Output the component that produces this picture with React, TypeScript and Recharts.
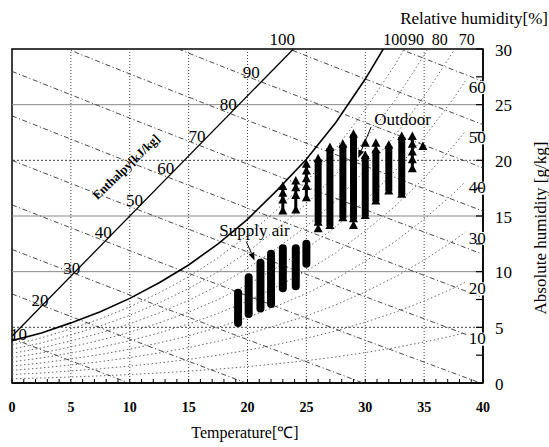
import React from "react";
import {
  ComposedChart,
  Scatter,
  XAxis,
  YAxis,
  ReferenceLine,
  ReferenceDot,
  ReferenceArea,
} from "recharts";

// saturation curve (100% RH) [g/kg]
const satTemp = [0, 2.5, 5, 7.5, 10, 12.5, 15, 17.5, 20, 22.5, 25, 27.5, 30, 32.5, 35, 37.5, 38.5];
const satHum = [3.8, 4.5, 5.4, 6.4, 7.6, 9.0, 10.6, 12.5, 14.7, 17.3, 20.1, 23.4, 27.3, 31.7, 36.8, 42.6, 45.2];

const rhLevels = [10, 20, 30, 40, 50, 60, 70, 80, 90];
const rhSideLabels = [10, 20, 30, 40, 50, 60];
const rhTopLabels = [100, 90, 80, 70];

const enthalpyLevels = [10, 20, 30, 40, 50, 60, 70, 80, 90, 100, 110];
const enthalpyLabels = [10, 20, 30, 40, 50, 60, 70, 80, 90, 100];
// diagonal enthalpy scale line
const enthalpyScaleTemp = [0, 23.9];
const enthalpyScaleHum = [4.2, 30];

const tempGrid = [5, 10, 15, 20, 25, 30, 35];
const humGrid = [5, 10, 15, 20, 25];
const tempTicks = Array.from({ length: 41 }, (_, i) => i);
const humTicks = Array.from({ length: 13 }, (_, i) => i * 2.5);

// supply air: range of absolute humidity per temperature
const supplyTemp = [19.2, 20.1, 21.1, 22.0, 23.0, 24.1, 25.0];
const supplyLow = [5.4, 6.2, 6.7, 7.1, 8.5, 8.7, 10.7];
const supplyHigh = [8.1, 9.5, 10.8, 11.6, 12.1, 12.1, 12.5];

// outdoor air: dense columns
const outdoorBarTemp = [26.0, 27.0, 28.1, 29.0, 30.0, 30.9, 32.0, 33.1];
const outdoorBarLow = [14.4, 14.1, 14.8, 14.7, 15.0, 16.3, 17.2, 16.9];
const outdoorBarHigh = [20.1, 21.1, 21.4, 22.3, 20.4, 20.9, 21.3, 22.1];
// outdoor air: single / stacked points
const outdoorPointTemp = [
  23.0, 23.0, 23.0, 23.0,
  24.1, 24.1, 24.1, 24.1,
  25.0, 25.0, 25.0, 25.0, 25.0,
  34.0, 34.0, 34.0, 34.0, 34.0,
  34.9, 26.0, 29.0, 30.0, 30.9,
];
const outdoorPointHum = [
  17.6, 17.0, 16.4, 15.4,
  18.1, 17.5, 16.8, 15.5,
  19.6, 19.0, 18.3, 17.6, 16.6,
  22.1, 21.4, 20.7, 20.0, 19.2,
  21.2, 13.8, 14.1, 21.5, 21.5,
];

const serif = '"Liberation Serif", "Times New Roman", serif';
const txt = { fontFamily: serif };

const enthHum = (h: number, t: number) => (h - 1.006 * t) / (2.501 + 0.00186 * t);
const scaleHum = (t: number) =>
  enthalpyScaleHum[0] +
  ((enthalpyScaleHum[1] - enthalpyScaleHum[0]) * (t - enthalpyScaleTemp[0])) /
    (enthalpyScaleTemp[1] - enthalpyScaleTemp[0]);

// where an enthalpy line meets the diagonal scale
const enthCross = (h: number) => {
  let lo = -5;
  let hi = 40;
  for (let k = 0; k < 40; k++) {
    const m = (lo + hi) / 2;
    if (scaleHum(m) - enthHum(h, m) > 0) hi = m;
    else lo = m;
  }
  return { t: lo, w: scaleHum(lo) };
};

// where an RH curve hits the top (30 g/kg)
const topCross = (rh: number) => {
  for (let i = 1; i < satTemp.length; i++) {
    const a = (satHum[i - 1] * rh) / 100;
    const b = (satHum[i] * rh) / 100;
    if (b >= 30) return satTemp[i - 1] + ((30 - a) / (b - a)) * (satTemp[i] - satTemp[i - 1]);
  }
  return 40;
};

const EmptyShape = () => <g />;

const Triangle = (props: any) => {
  const { cx, cy } = props;
  return (
    <polygon
      points={`${cx},${cy - 5.5} ${cx - 4.5},${cy + 3} ${cx + 4.5},${cy + 3}`}
      fill="#000"
    />
  );
};

const TempTick = ({ x, y, payload }: any) => {
  const v = payload.value;
  return (
    <g>
      <line x1={x} y1={y} x2={x} y2={y - 4} stroke="#000" />
      {v % 5 === 0 && (
        <text x={x} y={y + 29} textAnchor="middle" fontSize={14} fontWeight="bold" style={txt} fill="#000">
          {v}
        </text>
      )}
    </g>
  );
};

const HumTick = ({ x, y, payload }: any) => {
  const v = payload.value;
  return (
    <g>
      <line x1={x - 7} y1={y} x2={x} y2={y} stroke="#000" strokeWidth={1.2} />
      {v % 5 === 0 && (
        <text x={x + 12} y={y + 1} dominantBaseline="central" fontSize={17} style={txt} fill="#000">
          {v}
        </text>
      )}
    </g>
  );
};

const ArrowShape = (props: any) => {
  const { x1, y1, x2, y2 } = props;
  const a = Math.atan2(y2 - y1, x2 - x1);
  const L = 8;
  const s = 3;
  const bx = x2 - L * Math.cos(a);
  const by = y2 - L * Math.sin(a);
  const px = -Math.sin(a) * s;
  const py = Math.cos(a) * s;
  return (
    <g>
      <line x1={x1} y1={y1} x2={bx} y2={by} stroke="#000" strokeWidth={1} />
      <polygon points={`${x2},${y2} ${bx + px},${by + py} ${bx - px},${by - py}`} fill="#000" />
    </g>
  );
};

const lineProps = (stroke: string, width: number, dash?: string) => ({
  stroke,
  strokeWidth: width,
  strokeDasharray: dash,
});

export default function App() {
  const saturation = satTemp.map((t, i) => ({ t, w: satHum[i] }));
  const scaleLine = enthalpyScaleTemp.map((t, i) => ({ t, w: enthalpyScaleHum[i] }));
  const enthSample = [0, 10, 20, 30, 40];
  const outdoorPoints = outdoorPointTemp.map((t, i) => ({ t, w: outdoorPointHum[i] }));

  // thin spines under stacked triangles
  const stackTemps = Array.from(new Set(outdoorPointTemp)).filter(
    (t) => outdoorPointTemp.filter((v) => v === t).length > 1
  );
  const spines = stackTemps.map((t) => {
    const ws = outdoorPoints.filter((p) => p.t === t).map((p) => p.w);
    return [
      { t, w: Math.min(...ws) },
      { t, w: Math.max(...ws) },
    ];
  });

  return (
    <div style={{ position: "absolute", left: 0, top: 0, width: 549, height: 447, background: "#fff" }}>
      <ComposedChart
        width={549}
        height={447}
        margin={{ top: 49, right: 26, bottom: 34, left: 12 }}
        style={{ fontFamily: serif }}
      >
        <XAxis
          type="number"
          dataKey="t"
          domain={[0, 40]}
          ticks={tempTicks}
          interval={0}
          allowDataOverflow
          height={30}
          axisLine={{ stroke: "#000", strokeWidth: 1.5 }}
          tickLine={false}
          tickSize={0}
          tickMargin={0}
          tick={(p: any) => <TempTick {...p} />}
        />
        <YAxis
          type="number"
          dataKey="w"
          orientation="right"
          domain={[0, 30]}
          ticks={humTicks}
          interval={0}
          allowDataOverflow
          width={40}
          axisLine={{ stroke: "#000", strokeWidth: 1.5 }}
          tickLine={false}
          tickSize={0}
          tickMargin={0}
          tick={(p: any) => <HumTick {...p} />}
        />

        {tempGrid.map((t) => (
          <ReferenceLine key={`vx${t}`} x={t} stroke="#444" strokeDasharray="1 2" />
        ))}
        {humGrid.map((w) => (
          <ReferenceLine
            key={`hy${w}`}
            y={w}
            stroke={w === 10 || w === 15 || w === 25 ? "#888" : "#444"}
            strokeWidth={1}
            strokeDasharray={w === 10 || w === 15 || w === 25 ? undefined : "2 2"}
          />
        ))}

        {rhLevels.map((rh) => (
          <Scatter
            key={`rh${rh}`}
            data={satTemp.map((t, i) => ({ t, w: (satHum[i] * rh) / 100 }))}
            line={lineProps("#666", 1, "1.5 2.5")}
            shape={EmptyShape}
            isAnimationActive={false}
          />
        ))}

        {enthalpyLevels.map((h) => (
          <Scatter
            key={`h${h}`}
            data={enthSample.map((t) => ({ t, w: enthHum(h, t) }))}
            line={lineProps("#333", 0.9, "5 2.5 1.2 2.5")}
            shape={EmptyShape}
            isAnimationActive={false}
          />
        ))}

        <Scatter data={saturation} line={lineProps("#000", 1.6)} shape={EmptyShape} isAnimationActive={false} />
        <Scatter data={scaleLine} line={lineProps("#000", 1.3)} shape={EmptyShape} isAnimationActive={false} />

        {supplyTemp.map((t, i) => (
          <Scatter
            key={`sa${i}`}
            data={[
              { t, w: supplyLow[i] },
              { t, w: supplyHigh[i] },
            ]}
            line={{ stroke: "#000", strokeWidth: 8, strokeLinecap: "round" }}
            shape={EmptyShape}
            isAnimationActive={false}
          />
        ))}

        {outdoorBarTemp.map((t, i) => (
          <Scatter
            key={`oa${i}`}
            data={[
              { t, w: outdoorBarLow[i] },
              { t, w: outdoorBarHigh[i] },
            ]}
            line={{ stroke: "#000", strokeWidth: 7 }}
            shape={Triangle}
            isAnimationActive={false}
          />
        ))}
        {spines.map((d, i) => (
          <Scatter
            key={`sp${i}`}
            data={d}
            line={{ stroke: "#000", strokeWidth: 3 }}
            shape={EmptyShape}
            isAnimationActive={false}
          />
        ))}
        <Scatter data={outdoorPoints} shape={Triangle} isAnimationActive={false} />

        <ReferenceArea x1={0} x2={40} y1={0} y2={30} fill="none" stroke="#000" strokeWidth={1.5} ifOverflow="visible" />

        {enthalpyLabels.map((h) => {
          const c = enthCross(h);
          const dx = h === 10 ? 8 : h >= 90 ? -10 : -2;
          const dy = h === 10 ? -3 : h <= 30 ? -5 : h === 100 ? -11 : -9;
          return (
            <ReferenceDot
              key={`hl${h}`}
              x={c.t}
              y={c.w}
              ifOverflow="visible"
              shape={(p: any) => (
                <text
                  x={p.cx + dx}
                  y={p.cy + dy}
                  textAnchor="middle"
                  dominantBaseline="central"
                  fontSize={17}
                  style={txt}
                  fill="#000"
                >
                  {h}
                </text>
              )}
            />
          );
        })}

        {rhSideLabels.map((rh) => (
          <ReferenceDot
            key={`rs${rh}`}
            x={satTemp[satTemp.length - 1]}
            y={(satHum[satHum.length - 1] * rh) / 100}
            ifOverflow="visible"
            shape={(p: any) => (
              <g>
                <rect x={p.cx + 3} y={p.cy} width={19} height={13} fill="#fff" />
                <text
                  x={p.cx + 12}
                  y={p.cy + 6}
                  textAnchor="middle"
                  dominantBaseline="central"
                  fontSize={17}
                  style={txt}
                  fill="#000"
                >
                  {rh}
                </text>
              </g>
            )}
          />
        ))}

        {rhTopLabels.map((rh) => (
          <ReferenceDot
            key={`rt${rh}`}
            x={topCross(rh)}
            y={30}
            ifOverflow="visible"
            shape={(p: any) => (
              <text x={p.cx + (rh === 100 ? 0 : 4)} y={p.cy - 4} fontSize={16} style={txt} fill="#000">
                {rh}
              </text>
            )}
          />
        ))}

        <ReferenceDot
          x={9.7}
          y={19.4}
          ifOverflow="visible"
          shape={(p: any) => (
            <text
              x={p.cx}
              y={p.cy}
              textAnchor="middle"
              dominantBaseline="central"
              fontSize={12.5}
              fontWeight="bold"
              style={txt}
              fill="#000"
              transform={`rotate(-44 ${p.cx} ${p.cy})`}
            >
              Enthalpy[kJ/kg]
            </text>
          )}
        />

        <ReferenceDot
          x={30.77}
          y={23.2}
          ifOverflow="visible"
          shape={(p: any) => (
            <text x={p.cx} y={p.cy} fontSize={17} style={txt} fill="#000">
              Outdoor
            </text>
          )}
        />
        <ReferenceLine
          segment={[
            { x: 30.5, y: 23.0 },
            { x: 29.4, y: 20.2 },
          ]}
          ifOverflow="visible"
          shape={ArrowShape}
        />

        <ReferenceDot
          x={17.6}
          y={13.2}
          ifOverflow="visible"
          shape={(p: any) => (
            <text x={p.cx} y={p.cy} fontSize={17} style={txt} fill="#000">
              Supply air
            </text>
          )}
        />
        <ReferenceLine
          segment={[
            { x: 19.9, y: 12.7 },
            { x: 20.6, y: 11.0 },
          ]}
          ifOverflow="visible"
          shape={ArrowShape}
        />
      </ComposedChart>

      <svg width={549} height={447} style={{ position: "absolute", left: 0, top: 0, pointerEvents: "none" }}>
        <text x={548} y={24} textAnchor="end" fontSize={17} style={txt} fill="#000">
          Relative humidity[%]
        </text>
        <text x={245} y={438} textAnchor="middle" fontSize={16} style={txt} fill="#000">
          Temperature[℃]
        </text>
        <text
          x={546}
          y={228}
          textAnchor="middle"
          fontSize={17}
          style={txt}
          fill="#000"
          transform="rotate(-90 546 228)"
        >
          Absolute humidity [g/kg]
        </text>
      </svg>
    </div>
  );
}
